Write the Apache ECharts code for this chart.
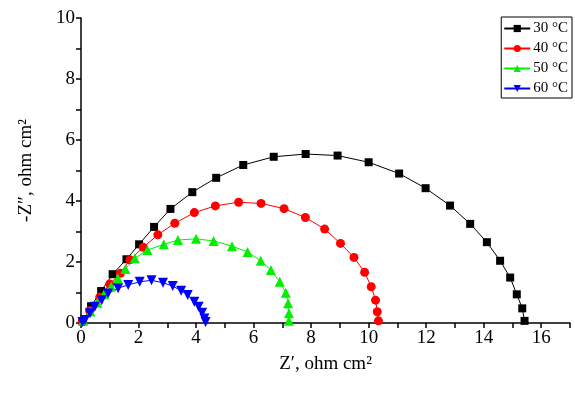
<!DOCTYPE html>
<html>
<head>
<meta charset="utf-8">
<script src="https://cdn.jsdelivr.net/npm/echarts@6/dist/echarts.min.js"></script>
<style>
  html, body { margin: 0; padding: 0; background: #fff; }
  #chart { width: 575px; height: 394px; }
</style>
</head>
<body>
<div id="chart"></div>
<script>
const seriesNames = ["30 °C", "40 °C", "50 °C", "60 °C"];

const t30 = [
  [0.05, 0.05], [0.35, 0.55], [0.7, 1.05], [1.1, 1.6], [1.58, 2.09], [2.02, 2.58],
  [2.54, 3.15], [3.11, 3.74], [3.87, 4.29], [4.7, 4.76], [5.64, 5.18], [6.7, 5.45],
  [7.81, 5.54], [8.92, 5.49], [10.0, 5.27], [11.06, 4.9], [11.98, 4.42], [12.83, 3.85],
  [13.53, 3.25], [14.11, 2.65], [14.57, 2.04], [14.92, 1.49], [15.15, 0.94],
  [15.34, 0.48], [15.42, 0.07]
];
const t40 = [
  [0.05, 0.05], [0.3, 0.4], [0.65, 0.85], [1.0, 1.28], [1.37, 1.63], [1.7, 2.07],
  [2.16, 2.48], [2.67, 2.89], [3.26, 3.27], [3.94, 3.62], [4.67, 3.84], [5.48, 3.96],
  [6.26, 3.92], [7.06, 3.75], [7.8, 3.46], [8.47, 3.08], [9.02, 2.61], [9.49, 2.15],
  [9.86, 1.66], [10.09, 1.19], [10.24, 0.75], [10.3, 0.37], [10.34, 0.07]
];
const t50 = [
  [0.08, 0.08], [0.33, 0.38], [0.57, 0.66], [0.8, 0.94], [1.05, 1.2], [1.28, 1.47],
  [1.54, 1.77], [1.87, 2.12], [2.31, 2.39], [2.88, 2.58], [3.37, 2.72], [4.0, 2.76],
  [4.61, 2.69], [5.25, 2.52], [5.79, 2.33], [6.25, 2.04], [6.6, 1.74], [6.91, 1.35],
  [7.12, 0.99], [7.2, 0.65], [7.23, 0.32], [7.23, 0.07]
];
const t60 = [
  [0.05, 0.03], [0.14, 0.1], [0.31, 0.32], [0.48, 0.53], [0.72, 0.75], [0.94, 0.97],
  [1.29, 1.14], [1.64, 1.25], [2.04, 1.35], [2.45, 1.4], [2.85, 1.32], [3.19, 1.21],
  [3.48, 1.06], [3.71, 0.92], [3.94, 0.7], [4.09, 0.53], [4.21, 0.34], [4.29, 0.15],
  [4.33, 0.03]
];

const allData = [t30, t40, t50, t60];
const colors = ["#000000", "#ff0000", "#00f000", "#0000ff"];
const symbols = ["rect", "circle", "triangle", "path://M0,0 L10,0 L5,9 Z"];
const symbolSizes = [8, 9, 10, 10];

const font = "'Liberation Serif', 'Times New Roman', serif";
const chart = echarts.init(document.getElementById("chart"), null, { renderer: "canvas" });

chart.setOption({
  animation: false,
  backgroundColor: "#ffffff",
  grid: { left: 81, right: 5, top: 18, bottom: 71, containLabel: false },
  legend: {
    orient: "vertical",
    right: 3,
    top: 17,
    itemWidth: 26,
    itemHeight: 9,
    itemGap: 5,
    padding: [4, 4, 2, 2],
    backgroundColor: "#ffffff",
    borderColor: "#000000",
    borderWidth: 1,
    borderRadius: 0,
    textStyle: { fontFamily: font, fontSize: 15, color: "#000", padding: [0, 0, 0, -2] },
    data: seriesNames
  },
  xAxis: {
    type: "value",
    min: 0,
    max: 17,
    interval: 2,
    name: "Z′, ohm cm²",
    nameLocation: "middle",
    nameGap: 32,
    nameTextStyle: { fontFamily: font, fontSize: 19, color: "#000" },
    axisLine: { onZero: false, lineStyle: { color: "#000", width: 1.5 } },
    axisTick: { inside: false, length: 5, lineStyle: { color: "#000", width: 1.5 } },
    minorTick: { show: true, splitNumber: 2, length: 5, lineStyle: { color: "#000", width: 1.5 } },
    axisLabel: { fontFamily: font, fontSize: 19, color: "#000", margin: 6, showMaxLabel: false },
    splitLine: { show: false }
  },
  yAxis: {
    type: "value",
    min: 0,
    max: 10,
    interval: 2,
    name: "-Z″, ohm cm²",
    nameLocation: "middle",
    nameGap: 45,
    nameTextStyle: { fontFamily: font, fontSize: 19, color: "#000" },
    axisLine: { show: true, onZero: false, lineStyle: { color: "#000", width: 1.5 } },
    axisTick: { show: true, inside: false, length: 5, lineStyle: { color: "#000", width: 1.5 } },
    minorTick: { show: true, splitNumber: 2, length: 5, lineStyle: { color: "#000", width: 1.5 } },
    axisLabel: { fontFamily: font, fontSize: 19, color: "#000", margin: 6 },
    splitLine: { show: false }
  },
  series: allData.map((d, i) => ({
    name: seriesNames[i],
    type: "line",
    data: d,
    symbol: symbols[i],
    symbolSize: symbolSizes[i],
    showAllSymbol: true,
    smooth: false,
    lineStyle: { color: colors[i], width: 1 },
    itemStyle: { color: colors[i] }
  }))
});
</script>
</body>
</html>
